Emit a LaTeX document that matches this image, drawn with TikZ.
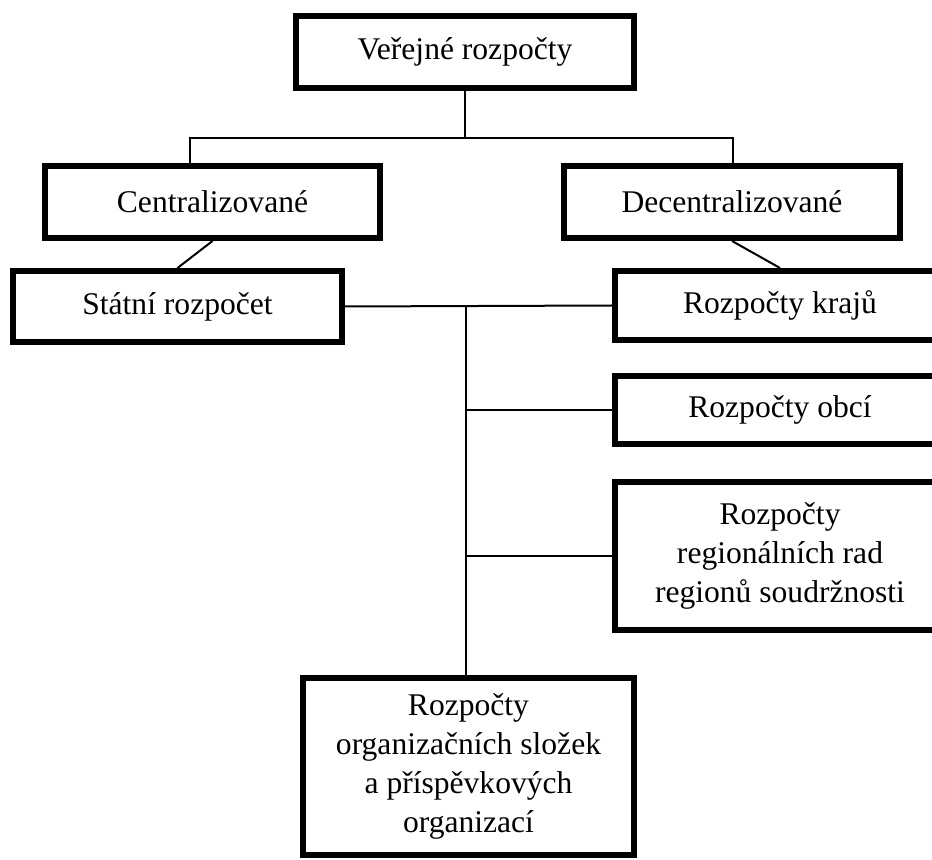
\documentclass[tikz,border=0pt]{standalone}
\usepackage{fontspec}
\setmainfont{Liberation Serif}
\usepackage{tikz}
\usetikzlibrary{positioning,calc}
\def\px{0.38pt}
\tikzset{%
	box/.style      = {draw, rectangle, line width=6*\px, align=center, inner sep=2pt,
	                   font=\fontsize{12}{14.8}\selectfont}, % budget box
	link/.style     = {line width=2*\px}, % connector
	waypoint/.style = {coordinate},
}

\begin{document}
\begin{tikzpicture}[x=\px,y=-\px]
	\useasboundingbox (0,0) rectangle (932,860);
	\clip (0,0) rectangle (932,860);
	\node [box, minimum width=338*\px, minimum height=72*\px] (verejne) at (465,52) {Veřejné rozpočty};
	\node [box, minimum width=335*\px, minimum height=72*\px] (central) at (212.5,202) {Centralizované};
	\node [box, minimum width=336*\px, minimum height=72*\px] (decentral) at (732,202) {Decentralizované};
	\node [box, minimum width=329*\px, minimum height=71*\px] (statni) at (177.5,306.5) {Státní rozpočet};
	\node [box, minimum width=330*\px, minimum height=69*\px] (kraje) at (780,305.5) {Rozpočty krajů};
	\node [box, minimum width=330*\px, minimum height=68*\px] (obce) at (780,410) {Rozpočty obcí};
	\node [box, minimum width=330*\px, minimum height=148*\px] (rady) at (780,556) {Rozpočty\\regionálních rad\\regionů soudržnosti};
	\node [box, minimum width=331*\px, minimum height=177*\px] (slozky) at (468.5,766.5) {Rozpočty\\organizačních složek\\a příspěvkových\\organizací};
	\node [waypoint] (barL) at (190,138) {};
	\node [waypoint] (barR) at (733,138) {};
	\node [waypoint] (spine) at (466,307) {};

	\draw[link] (verejne.south) -- (verejne.south |- barL);
	\draw[link] (barL |- central.north) -- (barL) -- (barR) -- (barR |- decentral.north);
	\draw[link] (central.south) -- (statni.north);
	\draw[link] (decentral.south) -- (kraje.north);
	\draw[link] (statni.east) -- (kraje.west);
	\draw[link] (spine) -- (spine |- slozky.north);
	\draw[link] (spine |- obce.west) -- (obce.west);
	\draw[link] (spine |- rady.west) -- (rady.west);
\end{tikzpicture}
\end{document}
